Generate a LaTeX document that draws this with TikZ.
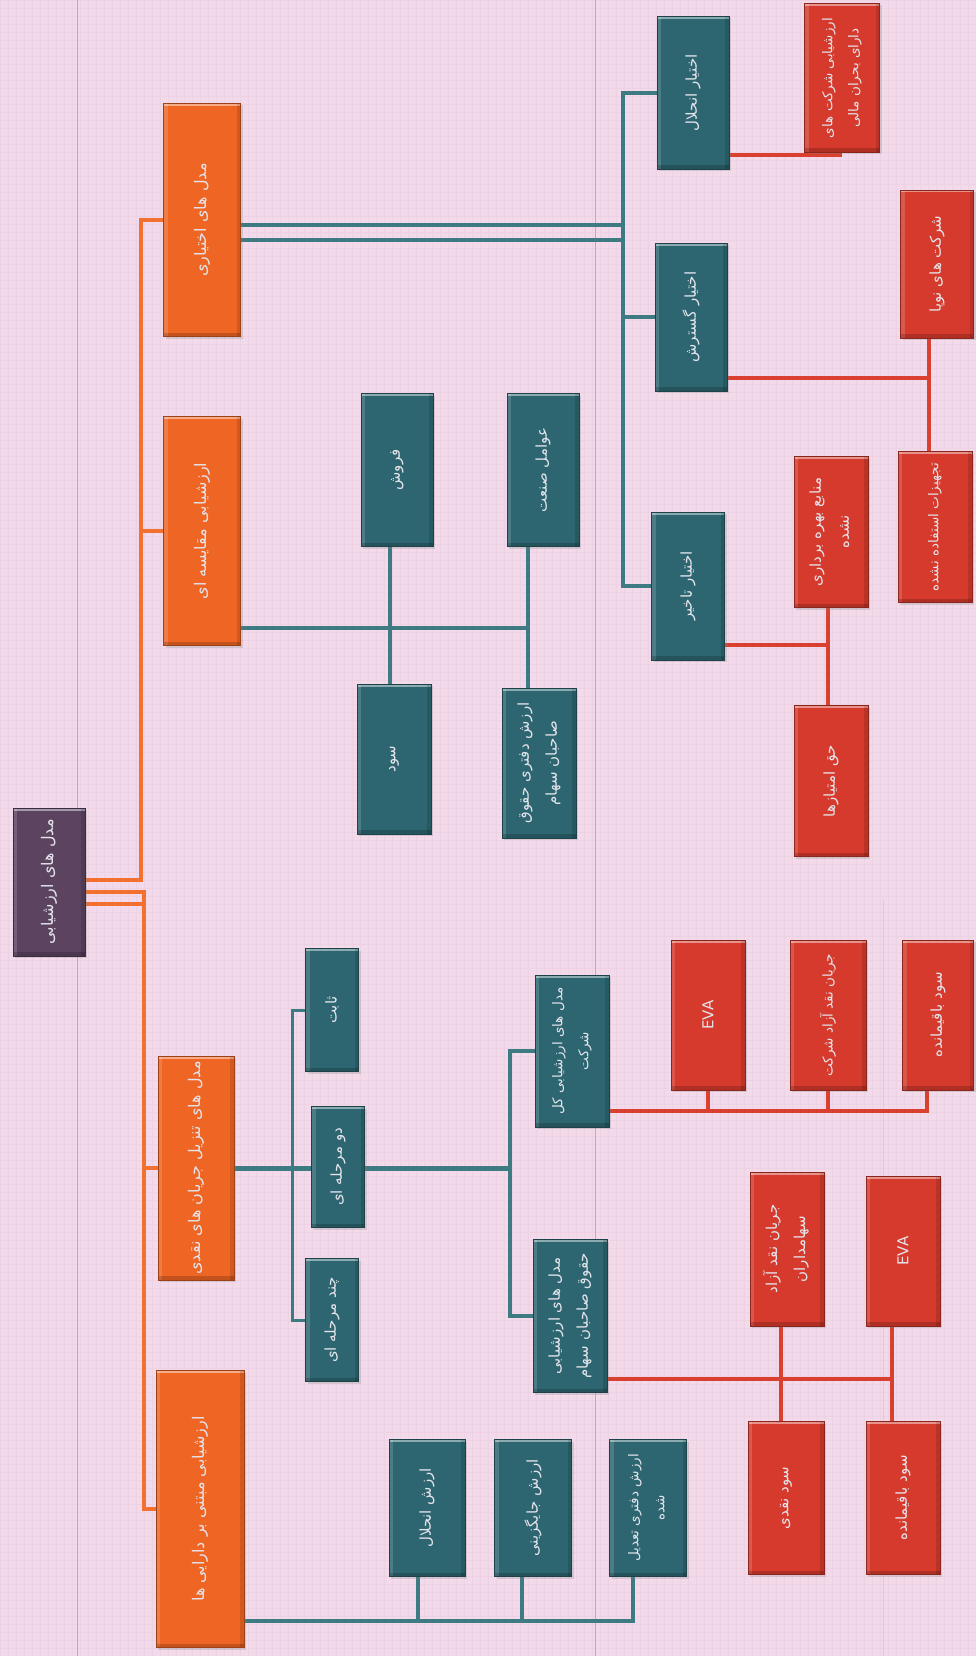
\documentclass[tikz,border=0pt]{standalone}
\usepackage{fontspec}
\usepackage{graphicx}
\newfontfamily\arabicfont[Script=Arabic]{DejaVu Sans}
\setsansfont{DejaVu Sans}
\TeXXeTstate=1
\usepackage{tikz}
\usetikzlibrary{positioning,calc,shadows}
\definecolor{paperpink}{HTML}{F2DAEA}
\definecolor{gridpink}{HTML}{ECD2E3}
\definecolor{rootpurple}{HTML}{5C4461}
\definecolor{boxorange}{HTML}{EF6524}
\definecolor{boxteal}{HTML}{2D6670}
\definecolor{boxred}{HTML}{D63A2C}
\definecolor{lineorange}{HTML}{F27030}
\definecolor{lineteal}{HTML}{3E7A82}
\definecolor{linered}{HTML}{DA4030}
\definecolor{labeltext}{HTML}{E4E4EC}
\pgfdeclarelayer{paper}
\pgfdeclarelayer{wires}
\pgfsetlayers{paper,wires,main}

\newcommand{\rotfa}[1]{\rotatebox{90}{\arabicfont #1}}
\newcommand{\rotfatwo}[1]{\rotatebox{90}{\arabicfont\begin{tabular}{@{}c@{}}#1\end{tabular}}}
\newcommand{\rotlat}[1]{\rotatebox{90}{\sffamily #1}}

\begin{document}
\begin{tikzpicture}[x=1pt, y=-1pt,
    valbox/.style={draw=#1!65!black, line width=0.6pt, fill=#1, text=labeltext,
      inner sep=0pt, font=\fontsize{15}{19}\selectfont,
      drop shadow={opacity=0.25, shadow xshift=2pt, shadow yshift=-2pt},
      path picture={
        \fill[white, opacity=0.45] (path picture bounding box.north west) rectangle ([yshift=-2.5pt]path picture bounding box.north east);
        \fill[white, opacity=0.15] (path picture bounding box.north west) rectangle ([xshift=4pt]path picture bounding box.south west);
        \fill[black, opacity=0.18] ([yshift=4pt]path picture bounding box.south west) rectangle (path picture bounding box.south east);
        \fill[black, opacity=0.12] ([xshift=-4pt]path picture bounding box.north east) rectangle (path picture bounding box.south east);}},
    smalltext/.style={font=\fontsize{13.5}{17}\selectfont},
    rootbox/.style={valbox=rootpurple, minimum width=72pt, minimum height=148pt, font=\fontsize{16}{20}\selectfont},
    orangebox/.style={valbox=boxorange, minimum width=77pt, font=\fontsize{16}{20}\selectfont},
    tealbox/.style={valbox=boxteal, minimum width=74pt, minimum height=150pt},
    stagebox/.style={valbox=boxteal, minimum width=53pt, minimum height=123pt},
    redbox/.style={valbox=boxred, minimum width=74pt, minimum height=150pt},
    orangeline/.style={lineorange, line width=3.5pt},
    tealline/.style={lineteal, line width=3.5pt},
    redline/.style={linered, line width=3.5pt},
    scanline/.style={gray!60, line width=0.6pt}]

  \useasboundingbox (0,0) rectangle (976,1656);
  \begin{pgfonlayer}{paper}
    \fill[paperpink] (0,0) rectangle (976,1656);
    \draw[gridpink, line width=0.3pt] (0,0) grid[step=8pt] (976,1656);
    \draw[scanline] (77,0) -- (77,1656);
    \draw[scanline] (595,0) -- (595,1656);
    \draw[scanline, gray!35] (883,900) -- (883,1656);
  \end{pgfonlayer}

  % Root
  \node[rootbox] (root) at (49,882) {\rotfa{\beginR مدل های ارزشیابی\endR}};

  % Model groups
  \node[orangebox, minimum height=233pt] (opt) at (202,220) {\rotfa{\beginR مدل های اختیاری\endR}};
  \node[orangebox, minimum height=229pt] (cmp) at (202,531) {\rotfa{\beginR ارزشیابی مقایسه ای\endR}};
  \node[orangebox, minimum width=76pt, minimum height=224pt] (dcf) at (196,1168) {\rotfa{\beginR مدل های تنزیل جریان های نقدی\endR}};
  \node[orangebox, minimum width=88pt, minimum height=277pt] (ast) at (200,1509) {\rotfa{\beginR ارزشیابی مبتنی بر دارایی ها\endR}};

  % Comparison
  \node[tealbox, minimum width=72pt, minimum height=153pt] (forosh) at (397,470) {\rotfa{\beginR فروش\endR}};
  \node[tealbox, minimum width=72pt, minimum height=153pt] (avamel) at (543,470) {\rotfa{\beginR عوامل صنعت\endR}};
  \node[tealbox] (sood) at (394,759) {\rotfa{\beginR سود\endR}};
  \node[tealbox] (daftari) at (539,763) {\rotfatwo{\beginR ارزش دفتری حقوق\endR\\[9pt]\beginR صاحبان سهام\endR}};

  % Discounted cash flow
  \node[stagebox] (sabet) at (332,1010) {\rotfa{\beginR ثابت\endR}};
  \node[stagebox, minimum height=121pt] (domarhale) at (338,1167) {\rotfa{\beginR دو مرحله ای\endR}};
  \node[stagebox] (chand) at (332,1320) {\rotfa{\beginR چند مرحله ای\endR}};
  \node[tealbox, smalltext, minimum height=152pt] (kol) at (572,1051) {\rotfatwo{\beginR مدل های ارزشیابی کل\endR\\[9pt]\beginR شرکت\endR}};
  \node[tealbox, minimum height=153pt] (hoq) at (570,1316) {\rotfatwo{\beginR مدل های ارزشیابی\endR\\[9pt]\beginR حقوق صاحبان سهام\endR}};
  \node[redbox] (evai) at (708,1015) {\rotlat{EVA}};
  \node[redbox, smalltext, minimum width=76pt] (fcff) at (828,1015) {\rotfa{\beginR جریان نقد آزاد شرکت\endR}};
  \node[redbox, minimum width=71pt] (rsdi) at (938,1015) {\rotfa{\beginR سود باقیمانده\endR}};
  \node[redbox, minimum height=154pt] (fcfe) at (787,1249) {\rotfatwo{\beginR جریان نقد آزاد\endR\\[9pt]\beginR سهامداران\endR}};
  \node[redbox] (evaii) at (903,1251) {\rotlat{EVA}};
  \node[redbox, minimum width=76pt, minimum height=153pt] (dps) at (786,1498) {\rotfa{\beginR سود نقدی\endR}};
  \node[redbox, minimum height=153pt] (rsdii) at (903,1498) {\rotfa{\beginR سود باقیمانده\endR}};

  % Asset based
  \node[tealbox, minimum width=76pt, minimum height=137pt] (aenh) at (427,1508) {\rotfa{\beginR ارزش انحلال\endR}};
  \node[tealbox, minimum width=77pt, minimum height=137pt] (jay) at (533,1508) {\rotfa{\beginR ارزش جایگزینی\endR}};
  \node[tealbox, smalltext, minimum width=77pt, minimum height=137pt] (tadil) at (648,1508) {\rotfatwo{\beginR ارزش دفتری تعدیل\endR\\[9pt]\beginR شده\endR}};

  % Options
  \node[tealbox, minimum width=72pt, minimum height=153pt] (oenh) at (693,93) {\rotfa{\beginR اختیار انحلال\endR}};
  \node[tealbox, minimum width=72pt, minimum height=148pt] (gost) at (691,317) {\rotfa{\beginR اختیار گسترش\endR}};
  \node[tealbox, minimum width=73pt, minimum height=148pt] (takhir) at (688,586) {\rotfa{\beginR اختیار تاخیر\endR}};
  \node[redbox, smalltext, minimum width=75pt, minimum height=149pt] (bohran) at (842,78) {\rotfatwo{\beginR ارزشیابی شرکت های\endR\\[9pt]\beginR دارای بحران مالی\endR}};
  \node[redbox, minimum width=73pt, minimum height=148pt] (nopa) at (937,264) {\rotfa{\beginR شرکت های نوپا\endR}};
  \node[redbox, smalltext, minimum height=151pt] (tajhiz) at (935,527) {\rotfa{\beginR تجهیزات استفاده نشده\endR}};
  \node[redbox, minimum height=151pt] (manabe) at (831,532) {\rotfatwo{\beginR منابع بهره برداری\endR\\[9pt]\beginR نشده\endR}};
  \node[redbox, minimum height=151pt] (emtiaz) at (831,781) {\rotfa{\beginR حق امتیازها\endR}};

  % Junctions
  \coordinate (obusa) at (623,225);
  \coordinate (obusb) at (623,240);
  \coordinate (cmpjoin) at (528,628);
  \coordinate (cmpleft) at (390,628);
  \coordinate (dcfbus) at (510,1168);
  \coordinate (stagebus) at (292,1168);
  \coordinate (firmred) at (927,1111);
  \coordinate (eqred) at (892,1379);
  \coordinate (eqleft) at (781,1379);
  \coordinate (distred) at (840,155);
  \coordinate (expred) at (929,378);
  \coordinate (delayred) at (828,645);
  \coordinate (astbus) at (633,1621);
  \coordinate (astxa) at (418,1621);
  \coordinate (astxb) at (522,1621);

  \begin{pgfonlayer}{wires}
    % root to the groups
    \draw[orangeline] (root.east |- 0,880) -| (opt.west -| 141,0) -- (opt.west);
    \draw[orangeline] (cmp.west -| 141,0) -- (cmp.west);
    \draw[orangeline] (root.east |- 0,892) -| (ast.west -| 144,0) -- (ast.west);
    \draw[orangeline] (root.east |- 0,904) -- (144,904);
    \draw[orangeline] (dcf.west -| 144,0) -- (dcf.west);
    % options
    \draw[tealline] (opt.east |- obusa) -- (obusa);
    \draw[tealline] (opt.east |- obusb) -- (obusb);
    \draw[tealline] (oenh.west) -| (takhir.west -| obusa) -- (takhir.west);
    \draw[tealline] (gost.west) -- (gost.west -| obusa);
    \draw[redline] (oenh.east |- distred) -| (bohran.south -| distred);
    \draw[redline] (gost.east |- expred) -- (expred);
    \draw[redline] (nopa.south -| expred) -- (tajhiz.north -| expred);
    \draw[redline] (takhir.east |- delayred) -- (delayred);
    \draw[redline] (manabe.south -| delayred) -- (emtiaz.north -| delayred);
    % comparison
    \draw[tealline] (cmp.east |- cmpjoin) -- (cmpjoin);
    \draw[tealline] (forosh.south -| cmpleft) -- (sood.north -| cmpleft);
    \draw[tealline] (avamel.south -| cmpjoin) -- (daftari.north -| cmpjoin);
    % dcf
    \draw[tealline, line width=5pt] (dcf.east) -- (dcfbus);
    \draw[tealline, line width=3pt] (sabet.west) -| (chand.west -| stagebus) -- (chand.west);
    \draw[tealline] (kol.west) -| (hoq.west -| dcfbus) -- (hoq.west);
    \draw[redline] (kol.east |- firmred) -| (rsdi.south -| firmred);
    \draw[redline] (evai.south) -- (evai.south |- firmred);
    \draw[redline] (fcff.south) -- (fcff.south |- firmred);
    \draw[redline] (hoq.east |- eqred) -- (eqred);
    \draw[redline] (fcfe.south -| eqleft) -- (dps.north -| eqleft);
    \draw[redline] (evaii.south -| eqred) -- (rsdii.north -| eqred);
    % asset based
    \draw[tealline] (ast.east |- astbus) -| (tadil.south -| astbus);
    \draw[tealline] (aenh.south -| astxa) -- (astxa);
    \draw[tealline] (jay.south -| astxb) -- (astxb);
  \end{pgfonlayer}
\end{tikzpicture}
\end{document}
